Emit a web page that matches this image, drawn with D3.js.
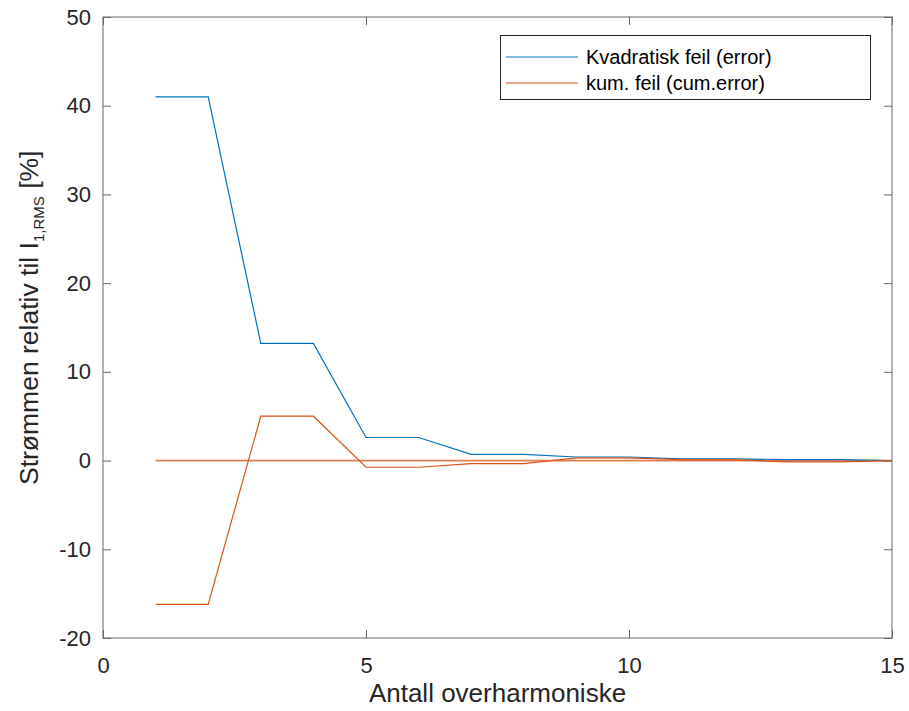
<!DOCTYPE html>
<html>
<head>
<meta charset="utf-8">
<script src="https://cdn.jsdelivr.net/npm/d3@7"></script>
<style>
  body { margin: 0; background: #fff; }
  text { font-family: "Liberation Sans", Arial, sans-serif; }
</style>
</head>
<body>
<svg id="chart" width="909" height="711"></svg>
<script>
// data
const harmonics = [1, 2, 3, 4, 5, 6, 7, 8, 9, 10, 11, 12, 13, 14, 15];
const errorValues = [41, 41, 13.2, 13.2, 2.6, 2.6, 0.7, 0.7, 0.4, 0.4, 0.2, 0.2, 0.1, 0.1, 0.0];
const cumErrorValues = [-16.2, -16.2, 5.0, 5.0, -0.75, -0.75, -0.35, -0.35, 0.3, 0.3, 0.1, 0.1, -0.15, -0.15, 0.0];
const zeroValues = [0, 0, 0, 0, 0, 0, 0, 0, 0, 0, 0, 0, 0, 0, 0];
const xTicks = [0, 5, 10, 15];
const yTicks = [-20, -10, 0, 10, 20, 30, 40, 50];
const legendLabels = ['Kvadratisk feil (error)', 'kum. feil (cum.error)'];

const blue = '#0072BD';
const orange = '#D95319';

const svg = d3.select('#chart');
const margin = { top: 17, right: 17, bottom: 73, left: 103 };
const width = 909, height = 711;

const x = d3.scaleLinear().domain([0, 15]).range([margin.left, width - margin.right]);
const y = d3.scaleLinear().domain([-20, 50]).range([height - margin.bottom, margin.top]);

const axisColor = '#666';
const fmt = d => String(d); // plain hyphen like the original

// box
svg.append('rect')
  .attr('x', x(0)).attr('y', y(50))
  .attr('width', x(15) - x(0)).attr('height', y(-20) - y(50))
  .attr('fill', 'none').attr('stroke', axisColor).attr('stroke-width', 1);

// bottom axis
const gx = svg.append('g')
  .attr('transform', `translate(0,${y(-20)})`)
  .call(d3.axisBottom(x).tickValues(xTicks).tickSize(-8).tickFormat(fmt));
// top ticks
const gxt = svg.append('g')
  .attr('transform', `translate(0,${y(50)})`)
  .call(d3.axisTop(x).tickValues(xTicks).tickSize(-8).tickFormat(''));
// left axis
const gy = svg.append('g')
  .attr('transform', `translate(${x(0)},0)`)
  .call(d3.axisLeft(y).tickValues(yTicks).tickSize(-8).tickPadding(12).tickFormat(fmt));
// right ticks
const gyr = svg.append('g')
  .attr('transform', `translate(${x(15)},0)`)
  .call(d3.axisRight(y).tickValues(yTicks).tickSize(-8).tickFormat(''));

[gx, gxt, gy, gyr].forEach(g => {
  g.select('.domain').remove();
  g.selectAll('line').attr('stroke', axisColor);
  g.selectAll('text').attr('fill', '#262626').style('font-size', '22px')
    .style('font-family', '"Liberation Sans", Arial, sans-serif');
});
gx.selectAll('text').attr('y', 35).attr('dy', 0);

// axis labels
svg.append('text')
  .attr('x', (x(0) + x(15)) / 2).attr('y', 702)
  .attr('text-anchor', 'middle').attr('fill', '#262626')
  .style('font-size', '26px')
  .text('Antall overharmoniske');

const yl = svg.append('text')
  .attr('transform', `translate(38,485) rotate(-90)`)
  .attr('text-anchor', 'start').attr('fill', '#262626')
  .style('font-size', '26.5px');
yl.append('tspan').text('Strømmen relativ til I');
yl.append('tspan').attr('dy', 6).style('font-size', '15px').text('1,RMS');
yl.append('tspan').attr('dy', -6).text(' [%]');

// lines
const line = d3.line().x((d, i) => x(harmonics[i])).y(d => y(d));

svg.append('path').datum(zeroValues)
  .attr('d', line).attr('fill', 'none')
  .attr('stroke', orange).attr('stroke-opacity', 0.75).attr('stroke-width', 1.8);

svg.append('path').datum(errorValues)
  .attr('d', line).attr('fill', 'none')
  .attr('stroke', blue).attr('stroke-width', 1.2);

svg.append('path').datum(cumErrorValues)
  .attr('d', line).attr('fill', 'none')
  .attr('stroke', orange).attr('stroke-width', 1.2);

// legend
const lg = svg.append('g');
lg.append('rect')
  .attr('x', 500.5).attr('y', 35.5).attr('width', 370).attr('height', 64)
  .attr('fill', '#fff').attr('stroke', '#262626').attr('stroke-width', 1);
const colors = [blue, orange];
legendLabels.forEach((label, i) => {
  const ly = 57 + i * 26;
  lg.append('line')
    .attr('x1', 506).attr('x2', 578).attr('y1', ly).attr('y2', ly)
    .attr('stroke', colors[i]).attr('stroke-width', 1);
  lg.append('text')
    .attr('x', 586).attr('y', ly).attr('dy', '0.35em')
    .attr('fill', '#000').style('font-size', '20px')
    .text(label);
});
</script>
</body>
</html>
